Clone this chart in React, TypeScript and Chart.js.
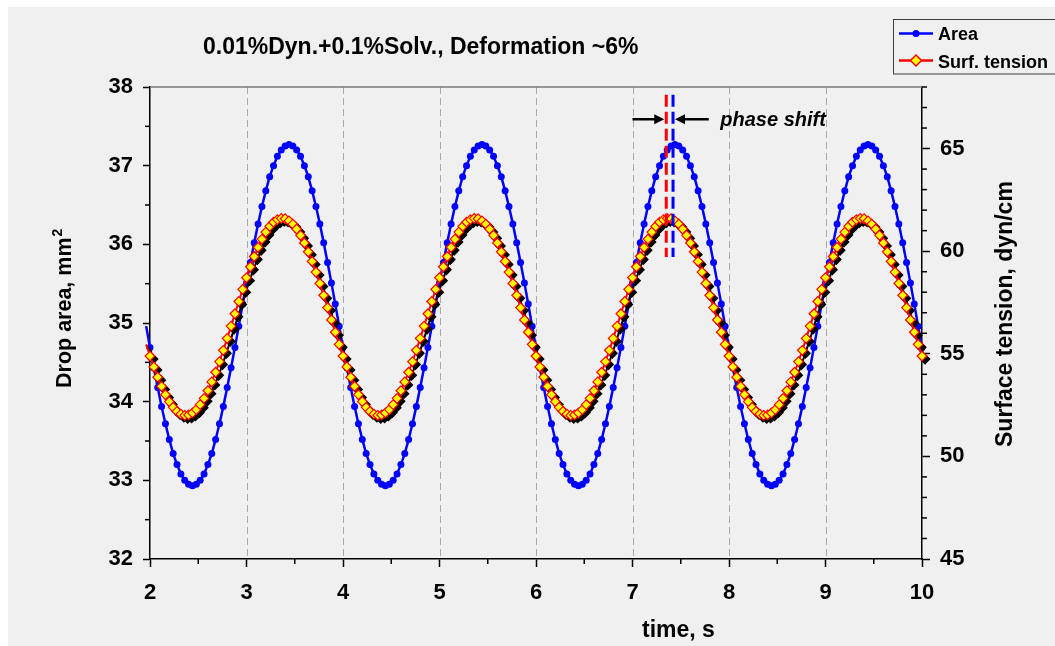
import { useEffect, useRef } from "react";
import { Chart, registerables } from "chart.js";

Chart.register(...registerables);

// Sampling grid of the measurement (s)
const TIME_START = 1.96;
const TIME_STEP = 0.04;

// Drop area, mm^2 (left axis)
const AREA = [
  34.96, 34.69, 34.43, 34.18, 33.94, 33.72, 33.52, 33.34, 33.2, 33.08,
  33.0, 32.95, 32.93, 32.95, 33.0, 33.08, 33.2, 33.34, 33.52, 33.72,
  33.94, 34.18, 34.43, 34.69, 34.96, 35.24, 35.51, 35.77, 36.02, 36.26,
  36.48, 36.68, 36.86, 37.0, 37.12, 37.2, 37.25,
  37.27, 37.25, 37.2, 37.12, 37.0, 36.86, 36.68, 36.48, 36.26, 36.02,
  35.77, 35.51, 35.24, 34.96, 34.69, 34.43, 34.18, 33.94, 33.72, 33.52,
  33.34, 33.2, 33.08, 33.0, 32.95, 32.93, 32.95, 33.0, 33.08, 33.2,
  33.34, 33.52, 33.72, 33.94, 34.18, 34.43, 34.69, 34.96, 35.24, 35.51,
  35.77, 36.02, 36.26, 36.48, 36.68, 36.86, 37.0, 37.12, 37.2, 37.25,
  37.27, 37.25, 37.2, 37.12, 37.0, 36.86, 36.68, 36.48, 36.26, 36.02,
  35.77, 35.51, 35.24, 34.96, 34.69, 34.43, 34.18, 33.94, 33.72, 33.52,
  33.34, 33.2, 33.08, 33.0, 32.95, 32.93, 32.95, 33.0, 33.08, 33.2,
  33.34, 33.52, 33.72, 33.94, 34.18, 34.43, 34.69, 34.96, 35.24, 35.51,
  35.77, 36.02, 36.26, 36.48, 36.68, 36.86, 37.0, 37.12, 37.2, 37.25,
  37.27, 37.25, 37.2, 37.12, 37.0, 36.86, 36.68, 36.48, 36.26, 36.02,
  35.77, 35.51, 35.24, 34.96, 34.69, 34.43, 34.18, 33.94, 33.72, 33.52,
  33.34, 33.2, 33.08, 33.0, 32.95, 32.93, 32.95, 33.0, 33.08, 33.2,
  33.34, 33.52, 33.72, 33.94, 34.18, 34.43, 34.69, 34.96, 35.24, 35.51,
  35.77, 36.02, 36.26, 36.48, 36.68, 36.86, 37.0, 37.12, 37.2, 37.25,
  37.27, 37.25, 37.2, 37.12, 37.0, 36.86, 36.68, 36.48, 36.26, 36.02,
  35.77, 35.51, 35.24, 34.96, 34.69, 34.43,
];

// Surface tension, dyn/cm (right axis)
const TENSION = [
  55.46, 54.89, 54.36, 53.86, 53.41, 53.01, 52.67, 52.39, 52.19, 52.06,
  52.0, 52.02, 52.12, 52.28, 52.52, 52.83, 53.2, 53.63, 54.1, 54.62,
  55.17, 55.75, 56.35, 56.95, 57.55, 58.14, 58.71, 59.24, 59.74, 60.19,
  60.59, 60.93, 61.21, 61.41, 61.54, 61.6, 61.58,
  61.48, 61.32, 61.08, 60.77, 60.4, 59.97, 59.5, 58.98, 58.43, 57.85,
  57.25, 56.65, 56.05, 55.46, 54.89, 54.36, 53.86, 53.41, 53.01, 52.67,
  52.39, 52.19, 52.06, 52.0, 52.02, 52.12, 52.28, 52.52, 52.83, 53.2,
  53.63, 54.1, 54.62, 55.17, 55.75, 56.35, 56.95, 57.55, 58.14, 58.71,
  59.24, 59.74, 60.19, 60.59, 60.93, 61.21, 61.41, 61.54, 61.6, 61.58,
  61.48, 61.32, 61.08, 60.77, 60.4, 59.97, 59.5, 58.98, 58.43, 57.85,
  57.25, 56.65, 56.05, 55.46, 54.89, 54.36, 53.86, 53.41, 53.01, 52.67,
  52.39, 52.19, 52.06, 52.0, 52.02, 52.12, 52.28, 52.52, 52.83, 53.2,
  53.63, 54.1, 54.62, 55.17, 55.75, 56.35, 56.95, 57.55, 58.14, 58.71,
  59.24, 59.74, 60.19, 60.59, 60.93, 61.21, 61.41, 61.54, 61.6, 61.58,
  61.48, 61.32, 61.08, 60.77, 60.4, 59.97, 59.5, 58.98, 58.43, 57.85,
  57.25, 56.65, 56.05, 55.46, 54.89, 54.36, 53.86, 53.41, 53.01, 52.67,
  52.39, 52.19, 52.06, 52.0, 52.02, 52.12, 52.28, 52.52, 52.83, 53.2,
  53.63, 54.1, 54.62, 55.17, 55.75, 56.35, 56.95, 57.55, 58.14, 58.71,
  59.24, 59.74, 60.19, 60.59, 60.93, 61.21, 61.41, 61.54, 61.6, 61.58,
  61.48, 61.32, 61.08, 60.77, 60.4, 59.97, 59.5, 58.98, 58.43, 57.85,
  57.25, 56.65, 56.05, 55.46, 54.89, 54.36,
];

// Axis ticks
const X_TICKS = [2, 3, 4, 5, 6, 7, 8, 9, 10];
const X_MINOR = [2.5, 3.5, 4.5, 5.5, 6.5, 7.5, 8.5, 9.5];
const AREA_TICKS = [32, 33, 34, 35, 36, 37, 38];
const AREA_MINOR = [32.5, 33.5, 34.5, 35.5, 36.5, 37.5];
const TENSION_TICKS = [45, 50, 55, 60, 65];
const TENSION_MINOR = [46, 47, 48, 49, 51, 52, 53, 54, 56, 57, 58, 59, 61, 62, 63, 64, 66, 67, 68];

// Phase-shift marker: peak times of surface tension (red) and area (blue)
const PHASE_PEAKS = [7.35, 7.42];
const PHASE_COLORS = ["#ff0000", "#0000ff"];
const PHASE_SPAN = [35.84, 37.9];
const PHASE_ARROW_Y = 37.59;
const PHASE_ARROW_FROM = [7.0, 7.79];
const PHASE_LABEL = { x: 7.91, y: 37.5, text: "phase shift" };

const FONT = "'Liberation Sans', Arial, Helvetica, sans-serif";
const BG = "#f0f0f0";

const times = AREA.map((_, i) => Number((TIME_START + i * TIME_STEP).toFixed(2)));
const inRange = (c: any) => {
  const x = c.parsed ? c.parsed.x : 2;
  return x >= 2 - 1e-6 && x <= 10 + 1e-6;
};

const framePlugin = {
  id: "frame",
  beforeDatasetsDraw(chart: any) {
    const { ctx, chartArea: a, scales } = chart;
    ctx.save();
    // dashed vertical grid
    ctx.strokeStyle = "#a9a9a9";
    ctx.lineWidth = 1;
    ctx.setLineDash([7, 4]);
    X_TICKS.slice(1, -1).forEach((v) => {
      const px = Math.round(scales.x.getPixelForValue(v)) + 0.5;
      ctx.beginPath();
      ctx.moveTo(px, a.top);
      ctx.lineTo(px, a.bottom);
      ctx.stroke();
    });
    ctx.setLineDash([]);
    // top frame line
    ctx.strokeStyle = "#7a7a7a";
    ctx.lineWidth = 1.5;
    ctx.beginPath();
    ctx.moveTo(a.left, a.top);
    ctx.lineTo(a.right, a.top);
    ctx.stroke();
    // minor ticks
    ctx.strokeStyle = "#000";
    ctx.lineWidth = 1.5;
    X_MINOR.forEach((v) => {
      const px = scales.x.getPixelForValue(v);
      ctx.beginPath();
      ctx.moveTo(px, a.bottom);
      ctx.lineTo(px, a.bottom + 5);
      ctx.stroke();
    });
    AREA_MINOR.forEach((v) => {
      const py = scales.y.getPixelForValue(v);
      ctx.beginPath();
      ctx.moveTo(a.left - 5, py);
      ctx.lineTo(a.left, py);
      ctx.stroke();
    });
    TENSION_MINOR.forEach((v) => {
      const py = scales.y2.getPixelForValue(v);
      ctx.beginPath();
      ctx.moveTo(a.right, py);
      ctx.lineTo(a.right + 5, py);
      ctx.stroke();
    });
    ctx.restore();
  },
};

// Offsets the black copy of the tension series so it reads as a drop shadow
const shadowPlugin = {
  id: "seriesShadow",
  beforeDatasetDraw(chart: any, args: any) {
    if (args.index === 1) {
      chart.ctx.save();
      chart.ctx.translate(3, 3);
    }
  },
  afterDatasetDraw(chart: any, args: any) {
    if (args.index === 1) chart.ctx.restore();
  },
};

const phasePlugin = {
  id: "phaseShift",
  afterDatasetsDraw(chart: any) {
    const { ctx, scales } = chart;
    const x = scales.x;
    const y = scales.y;
    ctx.save();
    // dashed peak markers
    ctx.lineWidth = 3;
    ctx.setLineDash([12, 5]);
    PHASE_PEAKS.forEach((t, i) => {
      const px = x.getPixelForValue(t);
      ctx.strokeStyle = PHASE_COLORS[i];
      ctx.beginPath();
      ctx.moveTo(px, y.getPixelForValue(PHASE_SPAN[1]));
      ctx.lineTo(px, y.getPixelForValue(PHASE_SPAN[0]));
      ctx.stroke();
    });
    ctx.setLineDash([]);
    // arrows pointing at the markers
    const ay = y.getPixelForValue(PHASE_ARROW_Y);
    ctx.strokeStyle = "#000";
    ctx.fillStyle = "#000";
    ctx.lineWidth = 2.5;
    PHASE_ARROW_FROM.forEach((from, i) => {
      const x0 = x.getPixelForValue(from);
      const x1 = x.getPixelForValue(PHASE_PEAKS[i]) + (i === 0 ? -2 : 2);
      const dir = x1 > x0 ? 1 : -1;
      ctx.beginPath();
      ctx.moveTo(x0, ay);
      ctx.lineTo(x1 - dir * 8, ay);
      ctx.stroke();
      ctx.beginPath();
      ctx.moveTo(x1, ay);
      ctx.lineTo(x1 - dir * 10, ay - 5);
      ctx.lineTo(x1 - dir * 10, ay + 5);
      ctx.closePath();
      ctx.fill();
    });
    ctx.font = `italic bold 20px ${FONT}`;
    ctx.textAlign = "left";
    ctx.textBaseline = "alphabetic";
    ctx.fillText(PHASE_LABEL.text, x.getPixelForValue(PHASE_LABEL.x), y.getPixelForValue(PHASE_LABEL.y));
    ctx.restore();
  },
};

const textPlugin = {
  id: "texts",
  afterDraw(chart: any) {
    const { ctx } = chart;
    ctx.save();
    ctx.fillStyle = "#000";
    ctx.textBaseline = "alphabetic";
    ctx.textAlign = "left";

    ctx.font = `bold 23px ${FONT}`;
    ctx.fillText("0.01%Dyn.+0.1%Solv., Deformation ~6%", 195, 47);
    ctx.fillText("time, s", 634, 630);

    // left axis title with superscript
    ctx.save();
    ctx.translate(63, 381);
    ctx.rotate(-Math.PI / 2);
    ctx.font = `bold 21.5px ${FONT}`;
    const main = "Drop area, mm";
    ctx.fillText(main, 0, 0);
    const w = ctx.measureText(main).width;
    ctx.font = `bold 14px ${FONT}`;
    ctx.fillText("2", w + 1, -9);
    ctx.restore();

    // right axis title
    ctx.save();
    ctx.translate(1004, 440);
    ctx.rotate(-Math.PI / 2);
    ctx.font = `bold 23px ${FONT}`;
    ctx.fillText("Surface tension, dyn/cm", 0, 0);
    ctx.restore();

    // legend
    ctx.fillStyle = BG;
    ctx.fillRect(885.5, 12.5, 170, 54.5);
    ctx.strokeStyle = "#404040";
    ctx.lineWidth = 1;
    ctx.strokeRect(885.5, 12.5, 170, 54.5);

    const r1 = 26.5;
    const r2 = 53.5;
    ctx.lineWidth = 2.5;
    ctx.strokeStyle = "#0000ff";
    ctx.beginPath();
    ctx.moveTo(891, r1);
    ctx.lineTo(925, r1);
    ctx.stroke();
    ctx.fillStyle = "#0000ff";
    ctx.beginPath();
    ctx.arc(908, r1, 3.5, 0, Math.PI * 2);
    ctx.fill();

    ctx.strokeStyle = "#ff0000";
    ctx.beginPath();
    ctx.moveTo(891, r2);
    ctx.lineTo(925, r2);
    ctx.stroke();
    ctx.fillStyle = "#ffff00";
    ctx.lineWidth = 1.5;
    ctx.beginPath();
    ctx.moveTo(908, r2 - 5.5);
    ctx.lineTo(913.5, r2);
    ctx.lineTo(908, r2 + 5.5);
    ctx.lineTo(902.5, r2);
    ctx.closePath();
    ctx.fill();
    ctx.stroke();

    ctx.fillStyle = "#000";
    ctx.font = `bold 18px ${FONT}`;
    ctx.fillText("Area", 930, 33);
    ctx.fillText("Surf. tension", 930, 61);
    ctx.restore();
  },
};

const tickFont = { family: FONT, size: 22, weight: "bold" as const };

export default function App() {
  const ref = useRef<HTMLCanvasElement | null>(null);

  useEffect(() => {
    const canvas = ref.current;
    if (!canvas) return;
    const tensionPoints = times.map((t, i) => ({ x: t, y: TENSION[i] }));
    const areaPoints = times.map((t, i) => ({ x: t, y: AREA[i] }));

    const chart = new Chart(canvas, {
      type: "line",
      data: {
        datasets: [
          {
            label: "Surf. tension",
            data: tensionPoints,
            yAxisID: "y2",
            borderColor: "#ff0000",
            borderWidth: 2,
            pointStyle: "rectRot",
            pointRadius: (c: any) => (inRange(c) ? 4.8 : 0),
            pointBackgroundColor: "#ffff00",
            pointBorderColor: "#ff0000",
            pointBorderWidth: 1.2,
            tension: 0,
            order: 0,
            clip: 7,
          },
          {
            label: "shadow",
            data: tensionPoints,
            yAxisID: "y2",
            borderColor: "#000000",
            borderWidth: 2,
            pointStyle: "rectRot",
            pointRadius: (c: any) => (inRange(c) ? 4.8 : 0),
            pointBackgroundColor: "#000000",
            pointBorderColor: "#000000",
            pointBorderWidth: 1.2,
            tension: 0,
            order: 1,
            clip: 7,
          },
          {
            label: "Area",
            data: areaPoints,
            yAxisID: "y",
            borderColor: "#0000ff",
            borderWidth: 2.5,
            pointStyle: "circle",
            pointRadius: (c: any) => (inRange(c) ? 3.5 : 0),
            pointBackgroundColor: "#0000ff",
            pointBorderColor: "#0000ff",
            pointBorderWidth: 0,
            tension: 0,
            order: 2,
            clip: 6,
          },
        ],
      },
      options: {
        animation: false,
        responsive: false,
        devicePixelRatio: 1,
        events: [],
        layout: { padding: { top: 80, left: 0, right: 0, bottom: 0 } },
        plugins: { legend: { display: false }, tooltip: { enabled: false }, title: { display: false } },
        scales: {
          x: {
            type: "linear",
            min: 2,
            max: 10,
            afterBuildTicks: (s: any) => {
              s.ticks = X_TICKS.map((v) => ({ value: v }));
            },
            afterFit: (s: any) => {
              s.height = 87;
            },
            ticks: { font: tickFont, color: "#000", padding: 13, maxRotation: 0, autoSkip: false },
            grid: { drawOnChartArea: false, drawTicks: true, tickLength: 8, tickColor: "#000", tickWidth: 1.5 },
            border: { color: "#000", width: 1.5 },
          },
          y: {
            type: "linear",
            position: "left",
            min: 32,
            max: 38,
            afterBuildTicks: (s: any) => {
              s.ticks = AREA_TICKS.map((v) => ({ value: v }));
            },
            afterFit: (s: any) => {
              s.width = 142;
            },
            ticks: { font: tickFont, color: "#000", padding: 10 },
            grid: { drawOnChartArea: false, drawTicks: true, tickLength: 7, tickColor: "#000", tickWidth: 1.5 },
            border: { color: "#000", width: 1.5 },
          },
          y2: {
            type: "linear",
            position: "right",
            min: 45,
            max: 68,
            afterBuildTicks: (s: any) => {
              s.ticks = TENSION_TICKS.map((v) => ({ value: v }));
            },
            afterFit: (s: any) => {
              s.width = 133;
            },
            ticks: { font: tickFont, color: "#000", padding: 10 },
            grid: { drawOnChartArea: false, drawTicks: true, tickLength: 8, tickColor: "#000", tickWidth: 1.5 },
            border: { color: "#000", width: 1.5 },
          },
        },
      } as any,
      plugins: [framePlugin, shadowPlugin, phasePlugin, textPlugin],
    });
    return () => chart.destroy();
  }, []);

  return (
    <div style={{ position: "fixed", left: 8, top: 7, width: 1047, height: 639, background: BG }}>
      <canvas ref={ref} width={1047} height={639} style={{ display: "block" }} />
    </div>
  );
}
